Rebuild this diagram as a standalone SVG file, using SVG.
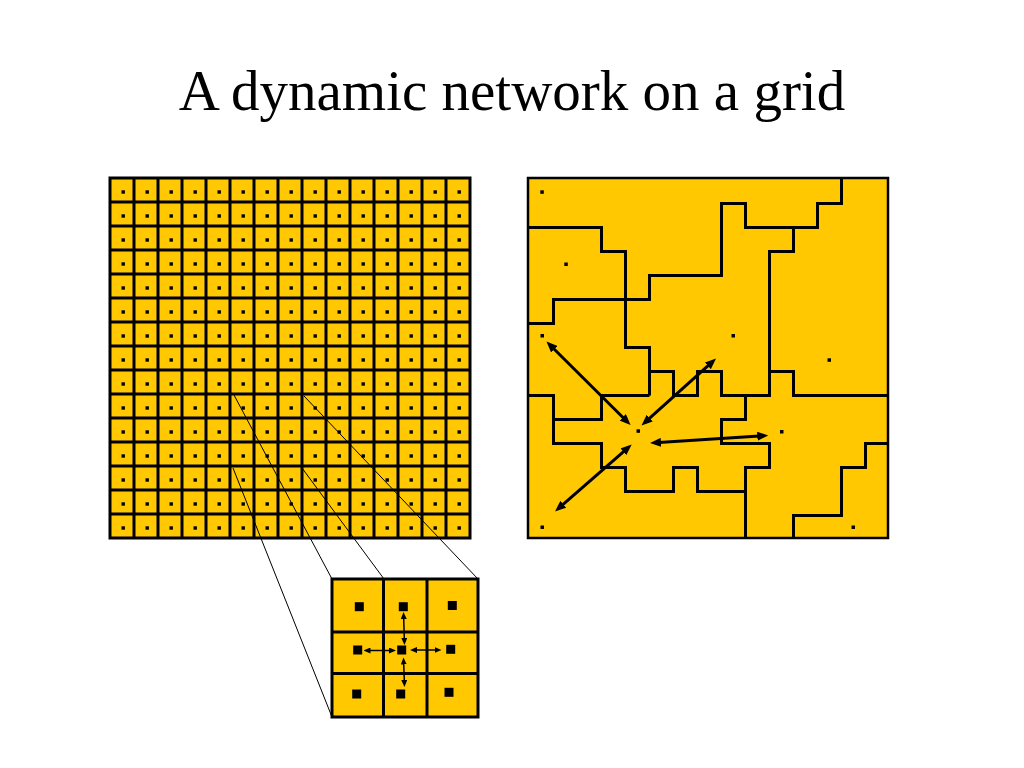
<svg xmlns="http://www.w3.org/2000/svg" width="1024" height="768" viewBox="0 0 1024 768">
  <style>
    .title { font-family: "Liberation Serif", "Times New Roman", serif; font-size: 57px; fill: #000; }
    .gold { fill: #FFC800; }
    .grid { fill: none; stroke: #000; stroke-width: 3; stroke-linecap: square; }
    .border { fill: #FFC800; stroke: #000; stroke-width: 2.5; }
    .region { fill: none; stroke: #000; stroke-width: 3; stroke-linejoin: miter; }
    .dot { fill: #000; }
    .zoomline { fill: none; stroke: #000; stroke-width: 1; }
    .arrow { fill: none; stroke: #000; stroke-width: 3; marker-start: url(#ah); marker-end: url(#ah); }
    .sarrow { fill: none; stroke: #000; stroke-width: 1.5; marker-start: url(#ahs); marker-end: url(#ahs); }
    .inset { fill: none; stroke: #000; stroke-width: 3; stroke-linecap: square; }
  </style>
  <defs>
    <pattern id="cell" x="110" y="178" width="24" height="24" patternUnits="userSpaceOnUse">
      <rect x="0" y="0" width="24" height="24" class="gold"/>
      <rect x="11.5" y="12.3" width="3.4" height="3.4" class="dot"/>
    </pattern>
    <marker id="ah" viewBox="0 0 11 9" refX="6" refY="4.5" markerWidth="11" markerHeight="9" markerUnits="userSpaceOnUse" orient="auto-start-reverse">
      <path d="M0,0 L11,4.5 L0,9 Z" fill="#000"/>
    </marker>
    <marker id="ahs" viewBox="0 0 7 6" refX="4" refY="3" markerWidth="7" markerHeight="6" markerUnits="userSpaceOnUse" orient="auto-start-reverse">
      <path d="M0,0 L7,3 L0,6 Z" fill="#000"/>
    </marker>
  </defs>

  <rect x="0" y="0" width="1024" height="768" fill="#fff"/>

  <g id="title">
    <text class="title" x="512" y="110" text-anchor="middle">A dynamic network on a grid</text>
  </g>

  <g id="grid-left">
    <rect x="110" y="178" width="360" height="360" fill="url(#cell)"/>
    <path class="grid" d="M110 178V538 M134 178V538 M158 178V538 M182 178V538 M206 178V538 M230 178V538 M254 178V538 M278 178V538 M302 178V538 M326 178V538 M350 178V538 M374 178V538 M398 178V538 M422 178V538 M446 178V538 M470 178V538
      M110 178H470 M110 202H470 M110 226H470 M110 250H470 M110 274H470 M110 298H470 M110 322H470 M110 346H470 M110 370H470 M110 394H470 M110 418H470 M110 442H470 M110 466H470 M110 490H470 M110 514H470 M110 538H470"/>
  </g>

  <g id="panel-right">
    <rect class="border" x="528" y="178" width="360" height="360"/>
    <path class="region" d="M528 227.5 H601.5 V251.5 H625.5 V347.5 H649.5 V395.5"/>
    <path class="region" d="M649.5 371.5 H673.5 V395.5 H697.5 V371.5 H721.5 V395.5 H769.5 V251.5 H793.5 V227.5 H817.5 V203.5 H841.5 V178"/>
    <path class="region" d="M528 323.5 H553.5 V299.5 H649.5 V275.5 H721.5 V203.5 H745.5 V227.5 H793.5"/>
    <path class="region" d="M528 395.5 H553.5 V443.5 H601.5 V467.5 H625.5 V491.5 H673.5 V467.5 H697.5 V491.5 H745.5"/>
    <path class="region" d="M745.5 395.5 V419.5 H721.5 V443.5 H769.5 V467.5 H745.5 V538"/>
    <path class="region" d="M553.5 419.5 H601.5 V395.5 H649.5"/>
    <path class="region" d="M769.5 371.5 H793.5 V395.5 H888"/>
    <path class="region" d="M888 443.5 H865.5 V467.5 H841.5 V515.5 H793.5 V538"/>
    <g id="nodes-right">
      <rect class="dot" x="540.3" y="190.3" width="3.5" height="3.5"/>
      <rect class="dot" x="564.3" y="262.5" width="3.5" height="3.5"/>
      <rect class="dot" x="540.5" y="334" width="3.5" height="3.5"/>
      <rect class="dot" x="731.5" y="334" width="3.5" height="3.5"/>
      <rect class="dot" x="827.5" y="358.3" width="3.5" height="3.5"/>
      <rect class="dot" x="780" y="430" width="3.5" height="3.5"/>
      <rect class="dot" x="851.5" y="525.5" width="3.5" height="3.5"/>
      <rect class="dot" x="540.5" y="525.5" width="3.5" height="3.5"/>
      <rect class="dot" x="636.5" y="429.3" width="3.5" height="3.5"/>
    </g>
  </g>

  <g id="connectors">
    <line class="zoomline" x1="234" y1="395" x2="332" y2="579"/>
    <line class="zoomline" x1="304" y1="396" x2="478" y2="579"/>
    <line class="zoomline" x1="233" y1="468" x2="332" y2="717"/>
    <line class="zoomline" x1="302" y1="468" x2="384" y2="579"/>
    <line class="arrow" x1="550" y1="345" x2="627" y2="421.5"/>
    <line class="arrow" x1="645.2" y1="422.2" x2="712.3" y2="361.8"/>
    <line class="arrow" x1="655" y1="442.7" x2="763.3" y2="435.8"/>
    <line class="arrow" x1="558.8" y1="508.2" x2="627.9" y2="447.8"/>
  </g>

  <g id="inset">
    <rect class="gold" x="332" y="579" width="146" height="138"/>
    <path class="inset" d="M332 579 H478 V717 H332 Z M383.5 579 V717 M427 579 V717 M332 632 H478 M332 673.5 H478"/>
    <g id="inset-nodes">
      <rect class="dot" x="354.8" y="602.2" width="9" height="9"/>
      <rect class="dot" x="398.8" y="602.2" width="9" height="9"/>
      <rect class="dot" x="447.8" y="601" width="9" height="9"/>
      <rect class="dot" x="353.2" y="645.5" width="9" height="9"/>
      <rect class="dot" x="397.2" y="645.5" width="9" height="9"/>
      <rect class="dot" x="446.2" y="644.8" width="9" height="9"/>
      <rect class="dot" x="352.2" y="689.5" width="9" height="9"/>
      <rect class="dot" x="396.2" y="689.5" width="9" height="9"/>
      <rect class="dot" x="444.5" y="687.8" width="9" height="9"/>
    </g>
    <g id="inset-connectors">
      <line class="sarrow" x1="403.6" y1="615" x2="404.4" y2="642"/>
      <line class="sarrow" x1="403.6" y1="660.5" x2="404.4" y2="684"/>
      <line class="sarrow" x1="366.5" y1="650.5" x2="393" y2="650.5"/>
      <line class="sarrow" x1="413" y1="650" x2="438.5" y2="650"/>
    </g>
  </g>
</svg>
